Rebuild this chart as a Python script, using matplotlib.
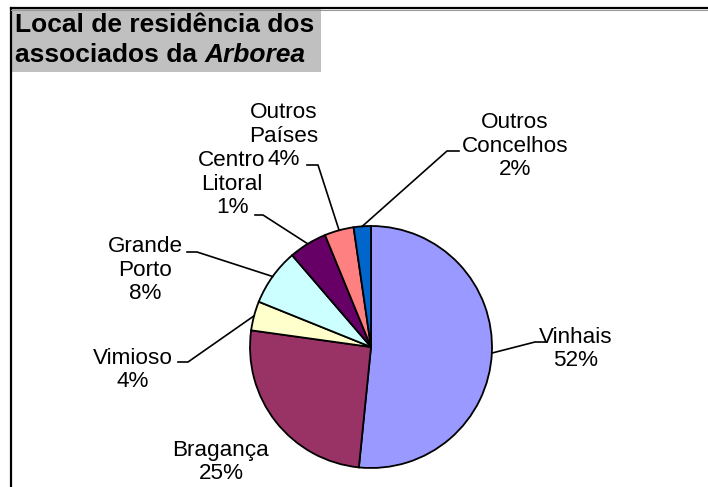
import numpy as np
import matplotlib
matplotlib.use("Agg")
import matplotlib.pyplot as plt
from matplotlib.lines import Line2D
from matplotlib.patches import Rectangle

plt.rcParams['font.family'] = ['Liberation Sans', 'DejaVu Sans']

# ---- data ----
categories = ["Vinhais", "Bragança", "Vimioso", "Grande\nPorto",
              "Centro\nLitoral", "Outros\nPaíses", "Outros\nConcelhos"]
shares = [51.6, 25.6, 3.9, 7.6, 5.1, 3.9, 2.3]          # slice sizes as drawn
pct_labels = ["52%", "25%", "4%", "8%", "1%", "4%", "2%"]  # labels as printed
colors = ["#9999FF", "#993366", "#FFFFCC", "#CCFFFF", "#660066", "#FF8080", "#0066CC"]

W, H = 708, 487
fig = plt.figure(figsize=(W / 100, H / 100), dpi=100)
ax = fig.add_axes([0, 0, 1, 1])

def Y(y):  # image row -> data y
    return H - y

cx, cy, R = 371, Y(347), 121
wedges, _ = ax.pie(shares, colors=colors, startangle=90, counterclock=False,
                   center=(cx, cy), radius=R, frame=False,
                   wedgeprops=dict(edgecolor="black", linewidth=1.3))
ax.set_xlim(0, W)
ax.set_ylim(0, H)
ax.set_aspect("equal")
ax.axis("off")

FS = 16.2
# label layout: text centre (image coords), elbow point, horizontal end point
layout = [
    dict(txt=(576, 349), elbow=(535, 342), end=(545, 342)),
    dict(txt=(221, 462), elbow=None, end=None),
    dict(txt=(133, 370), elbow=(188, 362), end=(178, 362)),
    dict(txt=(145, 270), elbow=(197, 252), end=(187, 252)),
    dict(txt=(232, 184), elbow=(263, 215), end=(255, 215)),
    dict(txt=(284, 136), elbow=(318, 165), end=(307, 165)),
    dict(txt=(515, 146), elbow=(447, 151), end=(459, 151)),
]

for w, name, pct, lay in zip(wedges, categories, pct_labels, layout):
    label = name + "\n" + pct
    tx, ty = lay["txt"]
    ax.text(tx, Y(ty), label, ha="center", va="center", fontsize=FS,
            linespacing=1.13, multialignment="center")
    if lay["elbow"] is not None:
        mid = np.deg2rad((w.theta1 + w.theta2) / 2)
        sx, sy = cx + R * np.cos(mid), cy + R * np.sin(mid)
        ex, ey = lay["elbow"]
        hx, hy = lay["end"]
        ax.add_line(Line2D([sx, ex, hx], [sy, Y(ey), Y(hy)],
                           color="black", linewidth=1.2))

# ---- title box ----
TFS = 19
ax.add_patch(Rectangle((12, Y(72)), 309, 63, facecolor="#C0C0C0",
                       edgecolor="none", zorder=0))
t1 = ax.text(15, Y(32), "Local de residência dos", fontsize=TFS, fontweight="bold",
             ha="left", va="baseline")
t2 = ax.text(15, Y(62), "associados da ", fontsize=TFS, fontweight="bold",
             ha="left", va="baseline")
fig.canvas.draw()
bb = t2.get_window_extent()
ax.text(bb.x1, Y(62), "Arborea", fontsize=TFS, fontweight="bold", style="italic",
        ha="left", va="baseline")

# ---- chart frame (left and top edges visible) ----
fig.add_artist(Line2D([11 / W, 11 / W], [0, 1 - 8 / H], transform=fig.transFigure,
                      color="black", linewidth=1.6))
fig.add_artist(Line2D([11 / W, 1], [1 - 8 / H, 1 - 8 / H], transform=fig.transFigure,
                      color="black", linewidth=1.6))
fig.add_artist(Line2D([11 / W, 1], [1 - 10 / H, 1 - 10 / H], transform=fig.transFigure,
                      color="#999999", linewidth=0.8))

fig.savefig("out.png", dpi=100)
